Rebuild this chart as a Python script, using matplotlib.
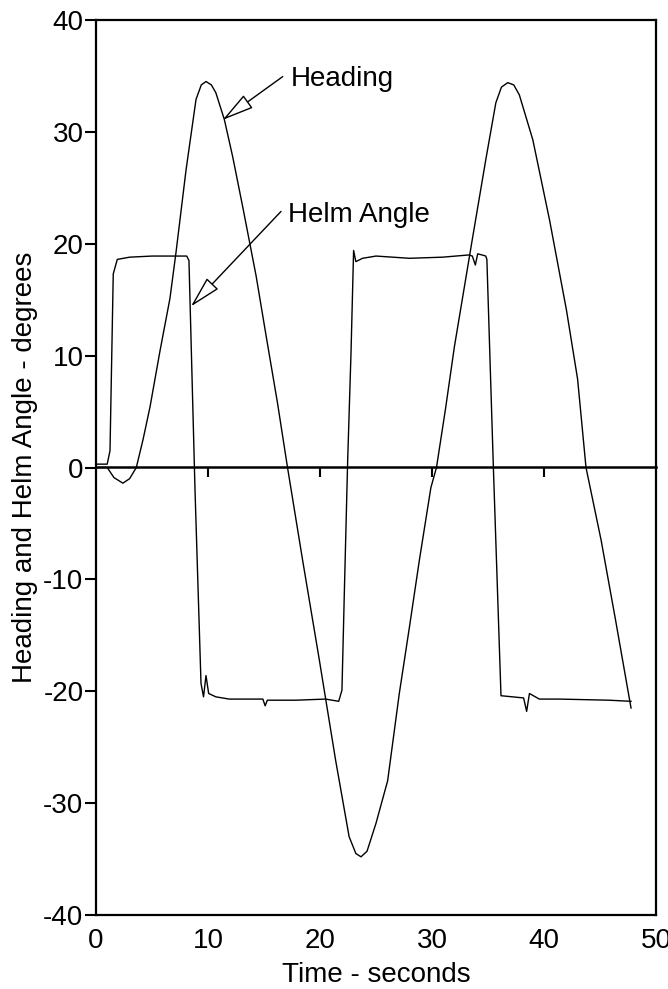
import numpy as np
import matplotlib.pyplot as plt

plt.rcParams['font.family'] = ['Liberation Sans', 'DejaVu Sans']
plt.rcParams['axes.unicode_minus'] = False

# Heading (degrees) vs time (s)
heading_t = [0, 1.0, 1.6, 2.4, 3.0, 3.6, 4.2, 4.82, 5.71, 6.6, 7.14, 8.04, 8.93,
             9.4, 9.82, 10.3, 10.7, 11.46, 12.2, 13.1, 14.3, 15.2, 16.2, 17.1,
             18.45, 19.94, 21.4, 22.6, 23.2, 23.66, 24.2, 25.0, 26.04, 27.08,
             27.98, 28.87, 29.9, 30.4, 31.2, 32.0, 33.6, 34.8, 35.7, 36.2,
             36.76, 37.3, 37.8, 39.0, 40.5, 42.0, 43.0, 43.75, 45.1, 46.4, 47.77]
heading = [0, 0, -0.9, -1.4, -1.0, 0, 2.5, 5.4, 10.4, 15.1, 19.2, 26.6, 32.9,
           34.2, 34.5, 34.2, 33.5, 31.1, 27.8, 23.3, 17.1, 11.7, 5.8, 0,
           -8.3, -17.2, -26.2, -33.0, -34.5, -34.8, -34.3, -31.8, -28.0, -20.2,
           -14.3, -8.3, -1.8, 0, 5.2, 10.8, 20.4, 27.5, 32.6, 34.0,
           34.4, 34.2, 33.3, 29.3, 22.1, 14.1, 7.9, 0, -6.5, -13.7, -21.5]

# Helm angle (degrees) vs time (s)
helm_t = [0, 1.0, 1.25, 1.54, 1.9, 3.0, 5.0, 8.1, 8.3, 8.84, 9.375, 9.6, 9.82,
          10.06, 10.7, 11.9, 14.9, 15.1, 15.3, 17.86, 20.5, 21.67, 21.96, 22.17,
          22.47, 22.77, 23.0, 23.2, 23.8, 25.0, 27.98, 30.95, 33.3, 33.6, 33.87,
          34.08, 34.46, 34.8, 34.9, 35.48, 36.16, 37.2, 38.18, 38.45, 38.7,
          39.58, 41.37, 45.8, 47.77]
helm = [0.3, 0.3, 1.5, 17.3, 18.6, 18.8, 18.9, 18.9, 18.5, -2.0, -19.3, -20.5, -18.6,
        -20.2, -20.5, -20.7, -20.7, -21.3, -20.8, -20.8, -20.7, -20.9, -19.9, -11.3,
        0.6, 10.3, 19.4, 18.4, 18.7, 18.9, 18.7, 18.8, 19.0, 18.9, 18.1,
        19.1, 19.0, 18.9, 18.6, 0, -20.4, -20.5, -20.6, -21.8, -20.2,
        -20.7, -20.7, -20.8, -20.9]

fig = plt.figure(figsize=(6.68, 9.89), dpi=100)
ax = fig.add_axes([96 / 668, 1 - 915 / 989, 560 / 668, 895 / 989])

ax.plot(heading_t, heading, color='black', lw=1.0)
ax.plot(helm_t, helm, color='black', lw=1.0)

ax.set_xlim(0, 50)
ax.set_ylim(-40, 40)
ax.set_xticks([0, 10, 20, 30, 40, 50])
ax.set_yticks(np.arange(-40, 41, 10))
ax.tick_params(axis='x', length=0, pad=9, labelsize=20)
ax.tick_params(axis='y', length=8, width=1.5, pad=1, labelsize=20)
for s in ax.spines.values():
    s.set_linewidth(1.6)

# zero line with ticks hanging below
zero_ax = ax.secondary_xaxis(0.5)
zero_ax.set_alignment('bottom')
zero_ax.set_xticks([10, 20, 30, 40])
zero_ax.set_xticklabels([])
zero_ax.tick_params(length=7, width=1.5, direction='out')
zero_ax.spines['bottom'].set_linewidth(1.8)

ax.set_xlabel('Time - seconds', fontsize=20, labelpad=6)
ax.set_ylabel('Heading and Helm Angle - degrees', fontsize=20, labelpad=4)

arrow = dict(arrowstyle='-|>,head_length=1.0,head_width=0.25', mutation_scale=20,
             fc='white', ec='black', lw=1.0, shrinkA=0, shrinkB=0)
ax.annotate('', xy=(11.31, 31.07), xytext=(16.67, 34.94), arrowprops=arrow)
ax.annotate('', xy=(8.48, 14.4), xytext=(16.52, 22.89), arrowprops=arrow)
ax.text(17.4, 34.1, 'Heading', fontsize=20, va='baseline', ha='left')
ax.text(17.1, 21.9, 'Helm Angle', fontsize=20, va='baseline', ha='left')

fig.savefig('out.png', dpi=100)
